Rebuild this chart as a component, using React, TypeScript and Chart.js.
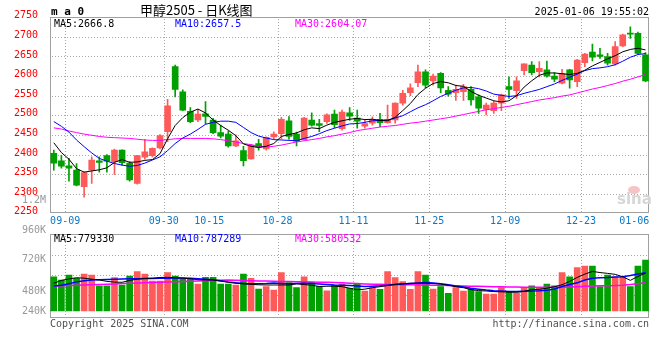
import React, { useEffect, useRef } from 'react';
import { Chart, registerables } from 'chart.js';

Chart.register(...registerables);

// ---------------- DATA ----------------
const opens = [
  2403, 2384, 2371, 2360, 2318, 2360, 2384, 2397, 2382, 2411,
  2378, 2326, 2393, 2397, 2417, 2458, 2624, 2560, 2510, 2488,
  2504, 2488, 2456, 2452, 2422, 2410, 2389, 2428, 2414, 2445,
  2453, 2486, 2452, 2438, 2488, 2479, 2484, 2503, 2466, 2506,
  2493, 2472, 2480, 2490, 2481, 2488, 2531, 2558, 2583, 2611,
  2588, 2607, 2564, 2558, 2560, 2566, 2547, 2515, 2512, 2531,
  2573, 2563, 2614, 2628, 2611, 2616, 2600, 2582, 2616, 2586,
  2634, 2661, 2654, 2650, 2631, 2677, 2709, 2709, 2654,
];
const closes = [
  2378, 2370, 2365, 2322, 2354, 2386, 2380, 2383, 2411, 2379,
  2335, 2397, 2407, 2416, 2448, 2524, 2566, 2513, 2484, 2503,
  2497, 2456, 2447, 2422, 2435, 2384, 2424, 2419, 2444, 2452,
  2490, 2446, 2434, 2493, 2475, 2474, 2501, 2476, 2508, 2498,
  2485, 2479, 2490, 2481, 2490, 2531, 2556, 2570, 2611, 2577,
  2600, 2570, 2554, 2566, 2573, 2539, 2518, 2526, 2531, 2552,
  2566, 2588, 2631, 2609, 2620, 2600, 2592, 2607, 2590, 2641,
  2656, 2648, 2650, 2633, 2675, 2705, 2707, 2658, 2588,
];
const highs = [
  2411, 2398, 2390, 2377, 2356, 2394, 2394, 2400, 2414, 2412,
  2382, 2398, 2439, 2417, 2451, 2541, 2628, 2565, 2520, 2515,
  2535, 2492, 2475, 2460, 2450, 2421, 2426, 2439, 2445, 2458,
  2495, 2497, 2457, 2495, 2506, 2490, 2504, 2513, 2513, 2520,
  2513, 2490, 2496, 2505, 2526, 2532, 2564, 2580, 2628, 2616,
  2605, 2609, 2573, 2577, 2579, 2573, 2552, 2531, 2536, 2554,
  2598, 2598, 2631, 2637, 2637, 2638, 2609, 2617, 2617, 2643,
  2658, 2682, 2671, 2658, 2688, 2707, 2726, 2712, 2660,
];
const lows = [
  2360, 2365, 2332, 2320, 2291, 2326, 2355, 2355, 2349, 2373,
  2332, 2324, 2388, 2394, 2414, 2433, 2547, 2512, 2481, 2484,
  2478, 2453, 2442, 2419, 2420, 2371, 2388, 2411, 2411, 2440,
  2440, 2439, 2422, 2437, 2472, 2458, 2479, 2468, 2462, 2487,
  2467, 2467, 2475, 2471, 2480, 2480, 2526, 2550, 2573, 2570,
  2577, 2558, 2549, 2538, 2538, 2526, 2505, 2501, 2505, 2512,
  2543, 2543, 2603, 2603, 2598, 2597, 2586, 2580, 2569, 2573,
  2624, 2639, 2645, 2628, 2628, 2675, 2696, 2655, 2586,
];
const ma5 = [
  2430, 2405, 2388, 2364, 2355, 2358, 2361, 2366, 2380, 2387,
  2380, 2381, 2385, 2387, 2402, 2440, 2474, 2494, 2508, 2516,
  2506, 2488, 2474, 2462, 2448, 2427, 2421, 2418, 2421, 2428,
  2446, 2451, 2455, 2463, 2468, 2466, 2475, 2482, 2486, 2490,
  2492, 2489, 2490, 2487, 2486, 2495, 2512, 2530, 2553, 2569,
  2581, 2586, 2583, 2576, 2574, 2561, 2551, 2544, 2537, 2534,
  2537, 2550, 2572, 2588, 2602, 2608, 2608, 2606, 2604, 2607,
  2615, 2626, 2635, 2644, 2652, 2662, 2668, 2671, 2666.8,
];
const ma10 = [
  2484, 2472, 2457, 2437, 2420, 2404, 2390, 2383, 2377, 2373,
  2370, 2372, 2378, 2386, 2394, 2410, 2428, 2442, 2452, 2464,
  2477, 2482, 2485, 2485, 2482, 2469, 2456, 2447, 2442, 2438,
  2437, 2436, 2435, 2441, 2446, 2453, 2461, 2467, 2473, 2478,
  2479, 2482, 2486, 2487, 2488, 2493, 2499, 2509, 2519, 2527,
  2537, 2548, 2556, 2564, 2570, 2571, 2568, 2562, 2554, 2551,
  2548, 2550, 2556, 2561, 2566, 2573, 2580, 2589, 2597, 2605,
  2614, 2619, 2621, 2624, 2629, 2638, 2648, 2655, 2657.5,
];
const ma30 = [
  2468, 2465, 2460, 2456, 2452, 2449, 2446, 2444, 2443, 2442,
  2441, 2439, 2437, 2436, 2436, 2438, 2440, 2441, 2441, 2441,
  2441, 2440, 2438, 2435, 2432, 2428, 2425, 2421, 2419, 2421,
  2424, 2428, 2432, 2435, 2438, 2441, 2445, 2448, 2452, 2456,
  2461, 2464, 2467, 2470, 2472, 2474, 2477, 2480, 2482, 2485,
  2488, 2491, 2494, 2498, 2502, 2506, 2510, 2514, 2517, 2520,
  2523, 2527, 2531, 2535, 2539, 2542, 2545, 2549, 2552, 2557,
  2562, 2567, 2571, 2576, 2581, 2587, 2592, 2598, 2604.07,
];
// volumes in thousands of lots
const volumesK = [
  706, 639, 742, 674, 762, 742, 521, 521, 686, 536,
  721, 810, 762, 618, 618, 789, 721, 659, 659, 556,
  694, 694, 556, 556, 536, 762, 674, 454, 501, 432,
  789, 583, 481, 706, 591, 501, 418, 526, 556, 467,
  556, 412, 481, 447, 811, 686, 604, 444, 811, 742,
  454, 501, 364, 481, 412, 454, 398, 350, 350, 481,
  398, 364, 481, 516, 481, 556, 516, 789, 706, 893,
  927, 927, 501, 742, 706, 706, 501, 927, 1051,
];
const volMa5K = [
  571, 630, 660, 686, 676, 655, 639, 610, 595, 591,
  630, 655, 670, 676, 690, 694, 685, 676, 665, 645,
  639, 639, 615, 591, 571, 560, 550, 540, 536, 536,
  536, 536, 560, 545, 530, 505, 510, 512, 501, 470,
  438, 450, 480, 501, 525, 550, 560, 571, 571, 571,
  565, 556, 530, 500, 480, 440, 420, 412, 400, 395,
  390, 385, 405, 440, 448, 470, 500, 540, 610, 692,
  760, 815, 792, 775, 755, 705, 631, 712, 779.33,
];
const volMa10K = [
  515, 530, 560, 600, 625, 640, 645, 650, 655, 659,
  662, 665, 668, 672, 674, 676, 678, 680, 676, 665,
  655, 645, 625, 600, 580, 568, 562, 560, 565, 575,
  568, 560, 565, 571, 565, 558, 545, 535, 530, 525,
  515, 505, 510, 518, 530, 545, 555, 565, 575, 585,
  575, 560, 540, 515, 495, 470, 450, 432, 418, 410,
  402, 400, 405, 412, 415, 425, 455, 505, 545, 580,
  640, 674, 686, 690, 700, 707, 730, 760, 787.29,
];
const volMa30K = [
  515, 520, 526, 532, 538, 543, 548, 552, 558, 565,
  571, 576, 582, 587, 591, 596, 602, 607, 612, 618,
  622, 628, 633, 639, 636, 630, 625, 620, 618, 614,
  610, 607, 604, 600, 597, 594, 591, 588, 580, 572,
  565, 558, 552, 550, 548, 545, 542, 540, 538, 536,
  532, 528, 524, 520, 516, 512, 508, 504, 501, 498,
  495, 492, 490, 488, 487, 487, 487, 488, 494, 501,
  508, 515, 521, 522, 525, 532, 545, 562, 580.53,
];

const dateLabels = ['09-09', '09-30', '10-15', '10-28', '11-11', '11-25', '12-09', '12-23', '01-06'];
const dateIndex = [1, 14, 20, 29, 39, 49, 59, 69, 78];
const gridDateIndex = [1, 14, 29, 39, 49, 59, 69];

const priceMin = 2250;
const priceMax = 2750;
const priceStep = 50;

const volAxisLabels = ['960K', '720K', '480K', '240K'];
const volAxisLabelY = [230, 259, 291, 311];
const volumeMinK = -150.4;
const volumeMaxK = 1580;
const volumeGridK = [323.4, 735.4, 1147.4];

const title = '甲醇2505 - 日K线图';
const stamp = '2025-01-06 19:55:02';
const priceLegend = ['MA5:2666.8', 'MA10:2657.5', 'MA30:2604.07'];
const volLegend = ['MA5:779330', 'MA10:787289', 'MA30:580532'];

// ---------------- STYLE ----------------
const MONO = '"DejaVu Sans Mono", "Liberation Mono", monospace';
const UP = '#ff5a5a';
const DOWN = '#00a000';
const GRID = '#a8a8a8';
const FRAME = '#a0a0a0';
const MA_COLORS = ['#000000', '#0000ff', '#ff00ff'];
const W = 660;
const H = 360;
const PLOT_LEFT = 50;
const PLOT_RIGHT = 649.3;
const PRICE_TOP = 17.3;
const PRICE_BOTTOM = 213.3;
const VOL_TOP = 234.3;
const VOL_BOTTOM = 318.3;

const candleColors = opens.map((o, i) => (closes[i] >= o ? UP : DOWN));

function makeGridPlugin(hValues: number[]) {
  return {
    id: 'dottedGrid',
    beforeDatasetsDraw(chart: any) {
      const { ctx, chartArea: a } = chart;
      const xs = chart.scales.x;
      const ys = chart.scales.y;
      const l = Math.round(a.left);
      const r = Math.round(a.right);
      const t = Math.round(a.top);
      const b = Math.round(a.bottom);
      ctx.save();
      ctx.fillStyle = GRID;
      hValues.forEach((v) => {
        const y = Math.round(ys.getPixelForValue(v));
        for (let x = l + 2; x < r - 1; x += 3) ctx.fillRect(x, y, 1, 1);
      });
      gridDateIndex.forEach((i) => {
        const x = Math.round(xs.getPixelForValue(i + 0.5));
        for (let y = t + 2; y < b - 1; y += 3) ctx.fillRect(x, y, 1, 1);
      });
      // frame
      ctx.strokeStyle = FRAME;
      ctx.lineWidth = 1;
      ctx.strokeRect(l + 0.5, t + 0.5, r - l - 1, b - t - 1);
      ctx.restore();
    },
  };
}

const dateLabelPlugin = {
  id: 'dateLabels',
  afterDraw(chart: any) {
    const { ctx, chartArea: a } = chart;
    const x = chart.scales.x;
    ctx.save();
    ctx.font = `10px ${MONO}`;
    ctx.fillStyle = '#0a78c8';
    ctx.textBaseline = 'middle';
    ctx.textAlign = 'left';
    dateLabels.forEach((lab, k) => {
      const px = x.getPixelForValue(dateIndex[k] + 0.5);
      const w = ctx.measureText(lab).width;
      let left = px - w / 2;
      if (left + w > a.right) left = a.right - w;
      ctx.fillText(lab, left, a.bottom + 8.3);
    });
    ctx.restore();
  },
};

function xAxis() {
  return {
    type: 'linear',
    min: -0.5,
    max: opens.length - 0.5,
    offset: false,
    grid: { display: false, offset: false },
    border: { display: false },
    ticks: { display: false },
    afterFit: (s: any) => {
      s.height = 0;
    },
  };
}

function lineDs(label: string, values: number[], color: string, width = 1) {
  return {
    type: 'line',
    label,
    data: values.map((v, i) => ({ x: i, y: v })),
    borderColor: color,
    borderWidth: width,
    pointRadius: 0,
    tension: 0,
    fill: false,
    order: 0,
  };
}

function Txt(props: { x: number; y: number; text: string; color?: string; align?: 'left' | 'right'; size?: number; bold?: boolean; family?: string }) {
  const { x, y, text, color = '#000', align = 'left', size = 10, bold = false, family = MONO } = props;
  const style: any = {
    position: 'absolute',
    top: y - 8,
    height: 16,
    lineHeight: '16px',
    fontFamily: family,
    fontSize: size,
    fontWeight: bold ? 'bold' : 'normal',
    color,
    whiteSpace: 'pre',
  };
  if (align === 'right') style.right = W - x;
  else style.left = x;
  return <div style={style}>{text}</div>;
}

const priceGridValues: number[] = [];
for (let v = priceMin + priceStep; v < priceMax; v += priceStep) priceGridValues.push(v);

export default function App() {
  const priceRef = useRef<HTMLCanvasElement>(null);
  const volRef = useRef<HTMLCanvasElement>(null);

  useEffect(() => {
    const price = new Chart(priceRef.current as any, {
      type: 'bar',
      data: {
        datasets: [
          lineDs('MA5', ma5, MA_COLORS[0]),
          lineDs('MA10', ma10, MA_COLORS[1]),
          lineDs('MA30', ma30, MA_COLORS[2]),
          {
            type: 'bar',
            label: 'body',
            data: opens.map((o, i) => ({ x: i, y: [o, closes[i]] })),
            backgroundColor: candleColors,
            barThickness: 6,
            minBarLength: 1,
            grouped: false,
            order: 1,
          },
          {
            type: 'bar',
            label: 'wick',
            data: lows.map((l, i) => ({ x: i, y: [l, highs[i]] })),
            backgroundColor: candleColors,
            barThickness: 1,
            grouped: false,
            order: 2,
          },
        ],
      } as any,
      options: {
        responsive: false,
        animation: false,
        devicePixelRatio: 1,
        layout: { padding: { top: PRICE_TOP, bottom: H - PRICE_BOTTOM, left: 0, right: W - PLOT_RIGHT } },
        plugins: { legend: { display: false }, tooltip: { enabled: false } },
        scales: {
          x: xAxis(),
          y: {
            type: 'linear',
            min: priceMin,
            max: priceMax,
            beginAtZero: false,
            grid: { display: false },
            border: { display: false },
            ticks: {
              stepSize: priceStep,
              color: '#ff0000',
              font: { family: MONO, size: 10 },
              padding: 4,
              labelOffset: -1.5,
              callback: (v: any) => String(v),
            },
            afterFit: (s: any) => {
              s.width = PLOT_LEFT;
            },
          },
        },
      } as any,
      plugins: [makeGridPlugin(priceGridValues), dateLabelPlugin],
    });

    const vol = new Chart(volRef.current as any, {
      type: 'bar',
      data: {
        datasets: [
          lineDs('MA5', volMa5K, MA_COLORS[0]),
          lineDs('MA10', volMa10K, MA_COLORS[1], 1.5),
          lineDs('MA30', volMa30K, MA_COLORS[2], 1.5),
          {
            type: 'bar',
            label: 'volume',
            data: volumesK.map((v, i) => ({ x: i, y: v })),
            backgroundColor: candleColors,
            barThickness: 6,
            grouped: false,
            order: 1,
          },
        ],
      } as any,
      options: {
        responsive: false,
        animation: false,
        devicePixelRatio: 1,
        layout: { padding: { top: VOL_TOP, bottom: H - VOL_BOTTOM, left: 0, right: W - PLOT_RIGHT } },
        plugins: { legend: { display: false }, tooltip: { enabled: false } },
        scales: {
          x: xAxis(),
          y: {
            type: 'linear',
            min: volumeMinK,
            max: volumeMaxK,
            beginAtZero: false,
            grid: { display: false },
            border: { display: false },
            ticks: { display: false },
            afterFit: (s: any) => {
              s.width = PLOT_LEFT;
            },
          },
        },
      } as any,
      plugins: [makeGridPlugin(volumeGridK)],
    });

    return () => {
      price.destroy();
      vol.destroy();
    };
  }, []);

  const legendX = [54, 175, 295];

  return (
    <div style={{ position: 'fixed', left: 0, top: 0, width: W, height: H, background: '#fff', overflow: 'hidden' }}>
      <canvas ref={priceRef} width={W} height={H} style={{ position: 'absolute', left: 0, top: 0, width: W, height: H }} />
      <canvas ref={volRef} width={W} height={H} style={{ position: 'absolute', left: 0, top: 0, width: W, height: H }} />

      {/* sina watermark */}
      <div style={{ position: 'absolute', left: 628, top: 186, width: 12, height: 8, borderRadius: '50%', background: '#f6c4c4' }} />
      <Txt x={617} y={199} text="sina" color="#d6d6d6" size={15} bold family='"DejaVu Sans", sans-serif' />

      <Txt x={51} y={12} text="m a 0" size={11} bold />
      <Txt x={140} y={10} text={title} size={13} family='"Noto Sans CJK SC", "Noto Sans", sans-serif' />
      <Txt x={649} y={12} text={stamp} align="right" />

      {priceLegend.map((t, i) => (
        <Txt key={'p' + i} x={legendX[i]} y={23.5} text={t} color={MA_COLORS[i]} />
      ))}
      <Txt x={46} y={200} text="1.2M" align="right" color="#999" />

      {volAxisLabels.map((t, i) => (
        <Txt key={'va' + i} x={46} y={volAxisLabelY[i]} text={t} align="right" color="#999" />
      ))}
      {volLegend.map((t, i) => (
        <Txt key={'v' + i} x={legendX[i]} y={238.5} text={t} color={MA_COLORS[i]} />
      ))}

      <Txt x={50} y={324} text="Copyright 2025 SINA.COM" color="#505050" />
      <Txt x={649} y={324} text="http://finance.sina.com.cn" align="right" color="#505050" />
    </div>
  );
}
